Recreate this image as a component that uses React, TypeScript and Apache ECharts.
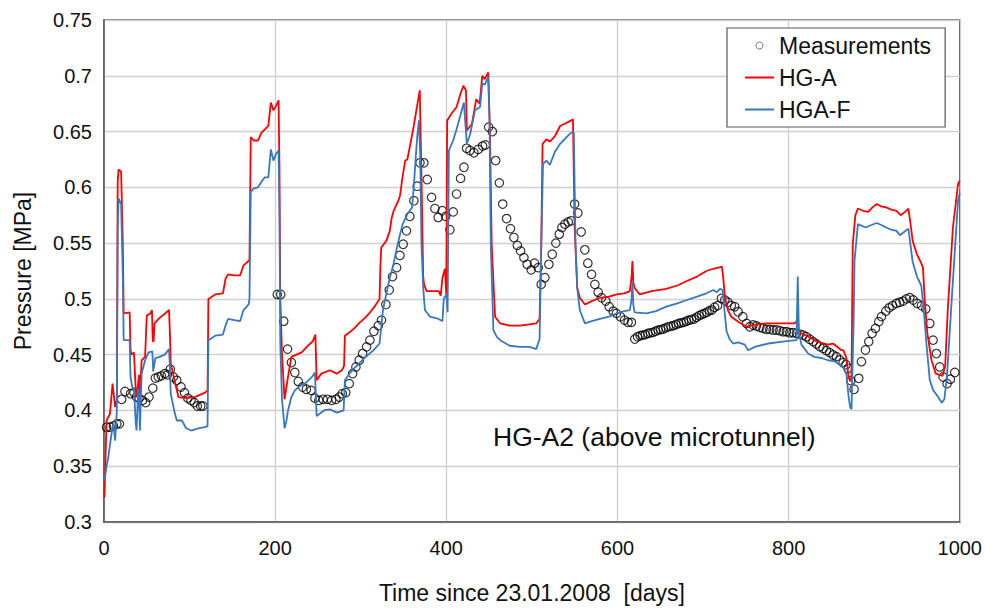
import React, { useEffect, useRef } from "react";
import * as echarts from "echarts";

const FONT = "'Liberation Sans', Arial, sans-serif";

// Measurements (day, MPa)
const measDays = [
  3, 7, 11, 15, 18, 20.6, 24.5, 31, 35, 38, 41, 45, 48.7, 52.6, 57, 60, 63.5, 67, 71, 74, 77.5, 81, 85, 90, 94, 98, 101.6, 105.5, 109, 113, 115.6,
  202.5, 206.5, 210, 214.5, 219, 223, 227, 232, 236.5, 242, 246.5, 251, 256, 261, 266, 271, 275, 278.5, 282.5, 286.6, 290.5, 294.4, 298.3, 302.2, 306.9, 310.7, 315.4, 320.5, 324.3, 329.4, 333.3, 337.2, 341.9, 345.8, 349.6, 353.5, 357.4, 362.1, 366, 369.2, 373.8, 377.7, 382.8, 386.7, 390.6, 395.3, 399.2, 404.2, 408.1, 412, 416.7, 420.6, 423.7, 427.6, 432.3, 437.4, 442.4, 445.6, 449.5, 453.8, 457.7, 462, 465.9, 470.5, 475, 479, 483, 486.8, 490.7, 494.5, 499.2, 503.1, 507.4, 510.9, 515.2, 519.9, 523.8, 528, 532, 535.1, 538.6, 542.5, 546, 549.9, 553.8, 557.6, 561.9, 565.4, 569.7, 573.6, 577.5, 581.4, 586.4, 590.3, 595, 598.8, 603.5, 608.2, 612.4, 616.3,
  620.3, 623.5, 626.5, 629.5, 632.5, 635.5, 638.5, 641.5, 644.5, 647.5, 650.5, 653.5, 656.5, 659.5, 662.5, 665.5, 668.5, 671.5, 674.5, 677.5, 680.5, 683.5, 686.5, 689.5, 692.5, 695.5, 698.5, 701.5, 704.5, 707.5, 710.5, 713.5, 717, 721.5, 725.5, 729, 733, 737, 741, 746.5, 750.8, 754.7, 758.5, 762.4, 766.3, 770.2, 774.1, 778, 781.9, 785.8, 789.7, 793.6, 797.5, 801.4, 805.3, 809.2, 813, 816.9, 820.8, 824.7, 828.6, 832.5, 836.4, 840.3, 844.2, 848.1, 852, 855.9, 859.8, 863.7, 867, 869.5, 872.6, 876.5, 882, 885.1, 889.8, 893.7, 897.6, 901.5, 905.4, 908.5, 913.6, 917.5, 921.4, 926, 929.9, 933.8, 937.7, 941.6, 945.5, 950.2, 955.2, 960.3, 965, 968.8, 972.7, 976.6, 980.5, 985.2, 989.1, 994.2,
];
const measValues = [
  0.385, 0.385, 0.386, 0.388, 0.388, 0.41, 0.417, 0.415, 0.416, 0.412, 0.411, 0.409, 0.407, 0.412, 0.42, 0.429, 0.43, 0.431, 0.433, 0.432, 0.437, 0.43, 0.427, 0.421, 0.416, 0.411, 0.409, 0.407, 0.404, 0.404, 0.404,
  0.504, 0.504, 0.48, 0.455, 0.443, 0.434, 0.426, 0.421, 0.419, 0.418, 0.411, 0.409, 0.41, 0.41, 0.409, 0.41, 0.412, 0.415, 0.416, 0.424, 0.433, 0.439, 0.445, 0.451, 0.457, 0.463, 0.471, 0.476, 0.481, 0.495, 0.508, 0.52, 0.528, 0.539, 0.549, 0.561, 0.574, 0.588, 0.601, 0.622, 0.622, 0.607, 0.591, 0.581, 0.573, 0.579, 0.574, 0.562, 0.578, 0.594, 0.608, 0.618, 0.635, 0.633, 0.631, 0.634, 0.637, 0.638, 0.654, 0.65, 0.624, 0.604, 0.585, 0.572, 0.563, 0.555, 0.548, 0.543, 0.537, 0.531, 0.526, 0.532, 0.528, 0.513, 0.519, 0.531, 0.54, 0.55, 0.558, 0.564, 0.567, 0.569, 0.57, 0.585, 0.577, 0.56, 0.544, 0.532, 0.522, 0.513, 0.506, 0.501, 0.498, 0.493, 0.489, 0.487, 0.484, 0.481, 0.479, 0.479,
  0.464, 0.466, 0.467, 0.4675, 0.468, 0.469, 0.4695, 0.47, 0.471, 0.472, 0.4725, 0.473, 0.474, 0.475, 0.4755, 0.476, 0.477, 0.478, 0.4785, 0.479, 0.48, 0.481, 0.4815, 0.482, 0.4835, 0.485, 0.486, 0.487, 0.488, 0.4895, 0.49, 0.4925, 0.494, 0.5005, 0.499, 0.497, 0.494, 0.493, 0.4885, 0.484, 0.478, 0.475, 0.4766, 0.4757, 0.4745, 0.4736, 0.4727, 0.4727, 0.4721, 0.4721, 0.4715, 0.4706, 0.4706, 0.4697, 0.4697, 0.4691, 0.4685, 0.4676, 0.4661, 0.4638, 0.4617, 0.4596, 0.4572, 0.4557, 0.4536, 0.4518, 0.4497, 0.4482, 0.4452, 0.4428, 0.441, 0.4378, 0.4267, 0.419, 0.4288, 0.4437, 0.4542, 0.4617, 0.4691, 0.4736, 0.4796, 0.4841, 0.489, 0.492, 0.494, 0.496, 0.497, 0.498, 0.5, 0.501, 0.499, 0.496, 0.494, 0.491, 0.478, 0.463, 0.451, 0.439, 0.43, 0.424, 0.428, 0.434,
];

// HG-A model (red)
const hgaDays = [
  0.5, 3, 7, 10, 13, 15, 16, 17, 20, 22, 23, 30, 31, 32, 35, 37, 38, 40, 41, 42, 43, 44, 48, 50, 54, 56, 57, 58, 59, 65, 70, 76, 77, 78, 83, 87, 95, 106, 112, 118, 121, 122, 130, 139, 142, 145, 152, 159, 163, 169, 170, 171.5, 175, 180, 184, 188, 192, 195, 198, 201, 204, 205, 206, 208, 211, 215, 219, 225, 231, 237, 244, 247, 248.5, 254, 264, 272, 278, 280.5, 281.5, 287, 293, 299, 305, 311, 317, 322, 323, 324, 330, 334, 336, 338.5, 344, 346, 349, 352, 354.5, 358, 362, 365, 369, 371, 373, 374, 377, 384, 391, 393.5, 395.5, 398.4, 400, 401, 406, 412, 417, 420, 423, 424, 430, 435, 439, 442, 445, 449, 451, 453, 457, 463, 474, 486, 495, 505, 509, 511, 512.5, 517, 521, 527, 533, 538.5, 546, 548, 550, 553, 556, 562, 570, 579.5, 590, 599, 608, 614.5, 616.5, 617.5, 618.5, 620, 626, 640, 657, 670, 681, 693, 704, 712, 718, 722, 723.5, 725.5, 729, 733, 742, 751, 760, 774, 790, 806, 809, 810.5, 812, 821, 832.5, 846, 852, 861.8, 864, 867.6, 870, 872, 873.5, 875, 878, 881, 887, 893, 898, 903, 908, 914, 920, 926, 931, 936, 940, 942, 945, 950, 955, 957, 959, 962, 967, 972, 980, 983, 986, 992, 998, 1000,
];
const hgaValues = [
  0.322, 0.391, 0.397, 0.424, 0.403, 0.41, 0.605, 0.616, 0.614, 0.55, 0.487, 0.488, 0.455, 0.45, 0.452, 0.42, 0.412, 0.425, 0.432, 0.41, 0.43, 0.445, 0.448, 0.485, 0.487, 0.49, 0.462, 0.462, 0.478, 0.483, 0.486, 0.49, 0.47, 0.442, 0.425, 0.412, 0.411, 0.412, 0.414, 0.416, 0.418, 0.5, 0.504, 0.505, 0.518, 0.522, 0.521, 0.521, 0.53, 0.534, 0.535, 0.645, 0.642, 0.642, 0.649, 0.652, 0.655, 0.676, 0.669, 0.673, 0.678, 0.62, 0.5, 0.45, 0.41, 0.43, 0.448, 0.45, 0.452, 0.457, 0.462, 0.468, 0.427, 0.433, 0.436, 0.433, 0.436, 0.44, 0.467, 0.47, 0.474, 0.479, 0.483, 0.488, 0.494, 0.5, 0.53, 0.546, 0.552, 0.561, 0.572, 0.579, 0.588, 0.593, 0.61, 0.624, 0.625, 0.639, 0.655, 0.669, 0.687, 0.609, 0.52, 0.513, 0.507, 0.507, 0.507, 0.503, 0.519, 0.527, 0.504, 0.66, 0.666, 0.672, 0.685, 0.691, 0.687, 0.651, 0.657, 0.679, 0.675, 0.7, 0.697, 0.703, 0.65, 0.549, 0.484, 0.478, 0.476, 0.476, 0.477, 0.478, 0.482, 0.55, 0.639, 0.643, 0.641, 0.646, 0.655, 0.657, 0.66, 0.661, 0.564, 0.51, 0.501, 0.495, 0.498, 0.501, 0.502, 0.504, 0.505, 0.507, 0.52, 0.534, 0.515, 0.51, 0.504, 0.507, 0.509, 0.512, 0.516, 0.52, 0.525, 0.527, 0.528, 0.529, 0.52, 0.502, 0.49, 0.484, 0.479, 0.475, 0.477, 0.478, 0.478, 0.478, 0.479, 0.485, 0.47, 0.467, 0.462, 0.459, 0.46, 0.454, 0.454, 0.447, 0.43, 0.426, 0.43, 0.549, 0.575, 0.581, 0.579, 0.578, 0.582, 0.585, 0.583, 0.582, 0.58, 0.579, 0.575, 0.578, 0.581, 0.57, 0.552, 0.54, 0.532, 0.528, 0.5, 0.47, 0.445, 0.433, 0.431, 0.44, 0.49, 0.564, 0.603, 0.606,
];

// HGA-F model (blue)
const hgafDays = [
  0.5, 3, 5, 8, 10, 11, 13, 15, 16, 17, 20, 22, 23, 30, 31, 33, 35, 37, 38, 40, 41, 42, 43, 44, 48, 52, 56.5, 57.5, 60, 65, 71, 76, 77, 78, 82, 85, 91, 96, 102, 110, 118, 121, 122, 130, 139, 142, 145, 152, 159, 163, 169, 170, 171.5, 175, 180, 184, 188, 192, 195, 198, 201, 204, 205, 206, 208, 211, 213, 215, 219, 223, 229, 235, 243, 246.5, 248.5, 252, 257, 264, 272, 280, 281.5, 286, 291, 297, 303, 309, 315, 322, 324, 326, 330, 334, 338, 341.5, 345, 349, 354.5, 360, 362, 364, 366, 368, 369.5, 371, 373, 375, 381, 391, 395.5, 397, 400, 401.5, 403, 408, 412, 416, 420.5, 424, 428, 433.5, 439.5, 442, 445, 449, 450.5, 452, 455, 459, 463, 474, 486, 497.5, 505, 509, 511, 513, 517, 521, 527, 533, 540.5, 546, 549, 551, 553, 556, 562, 570, 579.5, 590, 599, 608, 614.5, 616.5, 617.5, 618.5, 620, 634, 645, 657, 670, 681, 693, 704, 712, 716, 720, 723, 725, 727.5, 731, 735, 741, 748.8, 752.7, 760.5, 776, 795.5, 809.2, 810.7, 812, 815, 822.8, 830, 838.4, 846, 854, 863.7, 867.6, 870.3, 872, 873.5, 876, 877, 881, 890, 896, 903, 909, 914, 920, 926, 930, 935, 940, 945, 950, 955, 958, 961, 965, 969, 973, 979, 982, 985, 991, 998, 1000,
];
const hgafValues = [
  0.337, 0.35, 0.358, 0.375, 0.385, 0.388, 0.373, 0.4, 0.56, 0.59, 0.585, 0.52, 0.463, 0.463, 0.43, 0.421, 0.42, 0.39, 0.382, 0.42, 0.41, 0.382, 0.41, 0.433, 0.445, 0.452, 0.453, 0.435, 0.447, 0.448, 0.45, 0.455, 0.44, 0.415, 0.4, 0.391, 0.391, 0.384, 0.382, 0.384, 0.385, 0.386, 0.463, 0.467, 0.468, 0.476, 0.482, 0.481, 0.48, 0.49, 0.495, 0.5, 0.596, 0.599, 0.6, 0.605, 0.609, 0.609, 0.634, 0.624, 0.63, 0.633, 0.58, 0.46, 0.41, 0.384, 0.39, 0.4, 0.412, 0.418, 0.422, 0.424, 0.43, 0.434, 0.395, 0.397, 0.4, 0.401, 0.398, 0.4, 0.427, 0.432, 0.437, 0.441, 0.446, 0.45, 0.454, 0.46, 0.475, 0.49, 0.505, 0.519, 0.53, 0.543, 0.555, 0.567, 0.576, 0.582, 0.6, 0.624, 0.645, 0.66, 0.63, 0.549, 0.51, 0.49, 0.484, 0.482, 0.48, 0.5, 0.504, 0.488, 0.633, 0.642, 0.652, 0.663, 0.676, 0.639, 0.648, 0.669, 0.672, 0.693, 0.692, 0.699, 0.66, 0.549, 0.472, 0.466, 0.463, 0.458, 0.457, 0.457, 0.455, 0.464, 0.55, 0.621, 0.624, 0.62, 0.632, 0.639, 0.645, 0.649, 0.649, 0.549, 0.51, 0.49, 0.478, 0.48, 0.482, 0.484, 0.487, 0.489, 0.49, 0.5, 0.515, 0.495, 0.488, 0.487, 0.489, 0.493, 0.496, 0.499, 0.502, 0.505, 0.508, 0.506, 0.509, 0.508, 0.49, 0.471, 0.464, 0.46, 0.461, 0.459, 0.454, 0.457, 0.46, 0.462, 0.463, 0.52, 0.47, 0.459, 0.451, 0.448, 0.447, 0.445, 0.444, 0.439, 0.432, 0.411, 0.403, 0.401, 0.48, 0.534, 0.567, 0.564, 0.566, 0.568, 0.566, 0.564, 0.562, 0.561, 0.557, 0.56, 0.563, 0.533, 0.52, 0.512, 0.49, 0.46, 0.427, 0.418, 0.414, 0.407, 0.41, 0.43, 0.504, 0.588, 0.595,
];

const xTicks = { min: 0, max: 1000, interval: 200 };
const yTicks = { min: 0.3, max: 0.75, interval: 0.05 };

const zip = (xs: number[], ys: number[]) => xs.map((x, i) => [x, ys[i]]);

export default function App() {
  const ref = useRef<HTMLDivElement>(null);
  useEffect(() => {
    if (!ref.current) return;
    const chart = echarts.init(ref.current, undefined, { renderer: "svg" });
    const axisColor = "#595959";
    const gridColor = "#d0d0d0";
    const lineIcon = "path://M0,0H29V2H0Z";
    chart.setOption({
      animation: false,
      backgroundColor: "#ffffff",
      textStyle: { fontFamily: FONT },
      grid: {
        left: 104,
        right: 25,
        top: 20,
        bottom: 91,
        show: true,
        borderColor: axisColor,
        borderWidth: 1.5,
        containLabel: false,
      },
      xAxis: {
        type: "value",
        min: xTicks.min,
        max: xTicks.max,
        interval: xTicks.interval,
        name: "Time since 23.01.2008  [days]",
        nameLocation: "middle",
        nameGap: 59,
        nameTextStyle: { fontSize: 23, color: "#111", fontFamily: FONT },
        axisLabel: {
          fontSize: 20,
          margin: 16,
          color: "#111",
          fontFamily: FONT,
          formatter: (v: number) => String(v),
        },
        axisLine: { lineStyle: { color: axisColor, width: 1.5 } },
        axisTick: { show: false },
        splitLine: { show: true, lineStyle: { color: gridColor, width: 1.3 } },
      },
      yAxis: {
        type: "value",
        min: yTicks.min,
        max: yTicks.max,
        interval: yTicks.interval,
        name: "Pressure [MPa]",
        nameLocation: "middle",
        nameGap: 70,
        nameTextStyle: { fontSize: 23, color: "#111", fontFamily: FONT },
        axisLabel: {
          fontSize: 20,
          margin: 12,
          color: "#111",
          fontFamily: FONT,
          formatter: (v: number) => String(parseFloat(v.toFixed(2))),
        },
        axisLine: { show: true, lineStyle: { color: axisColor, width: 1.5 } },
        axisTick: { show: false },
        splitLine: { show: true, lineStyle: { color: gridColor, width: 1.3 } },
      },
      legend: {
        orient: "vertical",
        left: 727,
        top: 28,
        padding: [6, 14, 6, 18],
        itemWidth: 29,
        itemHeight: 7,
        itemGap: 9,
        borderColor: axisColor,
        borderWidth: 1.2,
        backgroundColor: "#ffffff",
        textStyle: { fontSize: 23, color: "#111", fontFamily: FONT },
        data: [
          {
            name: "Measurements",
            icon: "circle",
            itemStyle: { color: "rgba(0,0,0,0)", borderColor: "#555", borderWidth: 1 },
          },
          { name: "HG-A", icon: lineIcon, itemStyle: { color: "#ff0000", borderWidth: 0 } },
          { name: "HGA-F", icon: lineIcon, itemStyle: { color: "#3778bf", borderWidth: 0 } },
        ],
      },
      graphic: [
        {
          type: "text",
          left: 493,
          top: 423,
          z: 10,
          style: {
            text: "HG-A2 (above microtunnel)",
            fontSize: 26.5,
            fontFamily: FONT,
            fill: "#111",
          },
        },
      ],
      series: [
        {
          name: "Measurements",
          type: "scatter",
          data: zip(measDays, measValues),
          symbol: "circle",
          symbolSize: 8.5,
          itemStyle: { color: "rgba(0,0,0,0)", borderColor: "#000", borderWidth: 1.2 },
          z: 2,
        },
        {
          name: "HG-A",
          type: "line",
          data: zip(hgaDays, hgaValues),
          symbol: "none",
          showSymbol: false,
          lineStyle: { color: "#ff0000", width: 1.8 },
          itemStyle: { color: "#ff0000" },
          z: 3,
        },
        {
          name: "HGA-F",
          type: "line",
          data: zip(hgafDays, hgafValues),
          symbol: "none",
          showSymbol: false,
          lineStyle: { color: "#3778bf", width: 1.8 },
          itemStyle: { color: "#3778bf" },
          z: 4,
        },
      ],
    });
    return () => chart.dispose();
  }, []);
  return (
    <div
      ref={ref}
      style={{ position: "fixed", left: 0, top: 0, width: 985, height: 613, background: "#fff" }}
    />
  );
}
